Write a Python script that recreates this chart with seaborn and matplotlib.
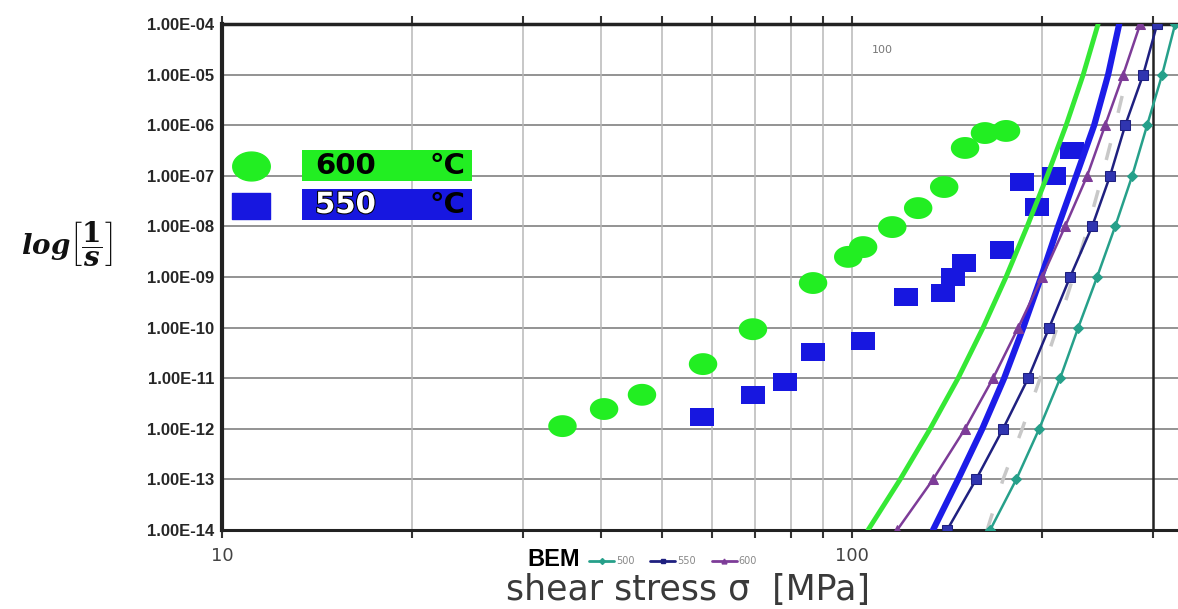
import numpy as np
import matplotlib
matplotlib.use('Agg')
import matplotlib.pyplot as plt
from matplotlib.path import Path
from matplotlib.lines import Line2D
from matplotlib.patches import Rectangle
import matplotlib.patheffects as pe
import seaborn as sns

# measured creep rates (1/s) vs shear stress (MPa)
stress_600 = [34.7, 40.4, 46.4, 58.0, 69.6, 86.7, 98.6, 104.1, 115.8, 127.3, 140.0, 151.1, 162.5, 175.5]
rate_600 = [1.13e-12, 2.46e-12, 4.7e-12, 1.9e-11, 9.3e-11, 7.6e-10, 2.5e-9, 3.9e-9, 9.7e-9, 2.3e-8, 6.0e-8, 3.55e-7, 7.0e-7, 7.7e-7]

stress_550 = [57.8, 69.6, 78.3, 86.7, 104.1, 121.8, 139.4, 144.6, 150.6, 173.0, 196.7, 186.1, 209.2, 223.4]
rate_550 = [1.7e-12, 4.7e-12, 8.4e-12, 3.3e-11, 5.4e-11, 4.0e-10, 4.8e-10, 1.0e-9, 1.9e-9, 3.4e-9, 2.4e-8, 7.5e-8, 9.9e-8, 3.2e-7]

# model curves, one stress value per decade of rate
curve_rate = [1e-14, 1e-13, 1e-12, 1e-11, 1e-10, 1e-9, 1e-8, 1e-7, 1e-6, 1e-5, 1e-4]
fit_600 = [106.0, 119.2, 133.0, 147.3, 161.4, 175.5, 189.6, 204.0, 218.6, 232.7, 245.7]
fit_550 = [134.4, 147.3, 160.9, 174.3, 186.9, 199.5, 212.3, 226.8, 242.2, 254.9, 265.4]
bem_600 = [117.9, 134.4, 151.1, 167.4, 183.5, 200.3, 217.8, 236.1, 252.1, 269.3, 286.6]
bem_550 = [141.5, 157.3, 173.6, 190.3, 205.5, 221.8, 240.4, 256.7, 271.3, 289.7, 304.9]
bem_500 = [165.6, 182.2, 198.1, 213.9, 228.5, 244.8, 261.5, 278.3, 293.9, 310.5, 325.6]
gray_rate = [1e-14, 1e-13, 1e-12, 1e-11, 1e-10, 1e-9, 1e-8, 1e-7, 1e-6, 1e-5]
gray_x = [163.8, 173.6, 186.2, 198.8, 211.5, 224.4, 237.0, 249.4, 261.5, 273.3]

ytick_vals = [1e-14, 1e-13, 1e-12, 1e-11, 1e-10, 1e-9, 1e-8, 1e-7, 1e-6, 1e-5, 1e-4]
ytick_labels = ['1.00E-14', '1.00E-13', '1.00E-12', '1.00E-11', '1.00E-10', '1.00E-09',
                '1.00E-08', '1.00E-07', '1.00E-06', '1.00E-05', '1.00E-04']
xgrid_vals = [20, 30, 40, 50, 60, 70, 80, 90, 100, 200]

sns.set_style('white')
plt.rcParams['font.family'] = ['DejaVu Sans']
plt.rcParams['mathtext.fontset'] = 'custom'
plt.rcParams['mathtext.it'] = 'DejaVu Serif:italic:bold'
plt.rcParams['mathtext.rm'] = 'DejaVu Serif:bold'

GREEN = '#22ee22'
BLUE = '#1717e0'

fig = plt.figure(figsize=(11.78, 6.09), dpi=100)
ax = fig.add_axes([222 / 1178, 1 - 530 / 609, 1 - 222 / 1178, (530 - 24) / 609])
ax.set_xscale('log')
ax.set_yscale('log')

# ellipse / flat rectangle markers like the original
t = np.linspace(0, 2 * np.pi, 60)
ellipse = Path(np.column_stack([1.3 * np.cos(t), np.sin(t)]), closed=True)
rect = Path([(-1.4, -1), (1.4, -1), (1.4, 1), (-1.4, 1), (-1.4, -1)], closed=True)

sns.scatterplot(x=stress_600, y=rate_600, marker=ellipse, s=420, color=GREEN,
                edgecolor='none', linewidth=0, ax=ax, zorder=3)
sns.scatterplot(x=stress_550, y=rate_550, marker=rect, s=310, color=BLUE,
                edgecolor='none', linewidth=0, ax=ax, zorder=3)

sns.lineplot(x=fit_600, y=curve_rate, color='#35e835', lw=3.5, estimator=None, ax=ax, zorder=4)
sns.lineplot(x=fit_550, y=curve_rate, color='#1c1ce8', lw=4.5, estimator=None, ax=ax, zorder=4)
ax.plot(gray_x, gray_rate, color='#c8c8c8', lw=2.5, dashes=(5, 9), zorder=4)
sns.lineplot(x=bem_600, y=curve_rate, color='#7d3c98', lw=1.8, marker='^', markersize=7,
             markeredgecolor='#7d3c98', estimator=None, ax=ax, zorder=5)
sns.lineplot(x=bem_550, y=curve_rate, color='#1f2080', lw=1.8, marker='s', markersize=7,
             markerfacecolor='#3035b0', markeredgecolor='#1f2080', estimator=None, ax=ax, zorder=5)
sns.lineplot(x=bem_500, y=curve_rate, color='#26a08a', lw=1.8, marker='D', markersize=5,
             markeredgecolor='#26a08a', estimator=None, ax=ax, zorder=5)

ax.set_xlim(10, 329)
ax.set_ylim(1e-14, 1e-4)

# grid
for v in ytick_vals[1:-1]:
    ax.axhline(v, color='#8a8a8a', lw=1.3, zorder=1)
for v in xgrid_vals:
    ax.axvline(v, color='#b8b8b8', lw=1.1, zorder=1)
ax.axvline(300, color='#222222', lw=1.8, zorder=2)

for side in ['top', 'bottom', 'left']:
    ax.spines[side].set_color('#222222')
ax.spines['top'].set_linewidth(2.5)
ax.spines['bottom'].set_linewidth(2.2)
ax.spines['left'].set_linewidth(3)
ax.spines['right'].set_visible(False)

ax.set_yticks(ytick_vals)
ax.set_yticklabels(ytick_labels, fontfamily='Liberation Sans', fontweight='bold', fontsize=12)
ax.yaxis.set_minor_locator(matplotlib.ticker.LogLocator(base=10, subs=np.arange(2, 10) * 1.0, numticks=30))
ax.yaxis.set_minor_formatter(matplotlib.ticker.NullFormatter())
ax.tick_params(axis='y', which='major', direction='inout', length=7, width=1.5, pad=2, color='#222222')
ax.tick_params(axis='y', which='minor', direction='inout', length=5, width=1, color='#333333')

ax.set_xticks([10, 100])
ax.set_xticklabels(['10', '100'], fontsize=13, color='#444444')
ax.xaxis.set_minor_locator(matplotlib.ticker.FixedLocator(xgrid_vals + [300]))
ax.xaxis.set_minor_formatter(matplotlib.ticker.NullFormatter())
ax.tick_params(axis='x', which='both', top=True, bottom=True, direction='out', length=6,
               width=1.5, color='#333333', pad=6)

ax.text(111.6, 3.1e-5, '100', fontsize=8, color='#777777', ha='center', va='center')

# axis titles
fig.text(688 / 1178, 1 - 590 / 609, 'shear stress \u03c3  [MPa]', fontsize=25,
         color='#3a3a3a', ha='center', va='center')
fig.text(67 / 1178, 1 - 243 / 609, r'$log\left[\dfrac{1}{s}\right]$', fontsize=20,
         ha='center', va='center', color='#111111')

# temperature key
fig.add_artist(Line2D([251 / 1178], [1 - 166 / 609], marker=ellipse, markersize=27,
                      color=GREEN, ls='none'))
fig.add_artist(Line2D([251 / 1178], [1 - 206 / 609], marker=rect, markersize=27,
                      color=BLUE, ls='none'))
fig.add_artist(Rectangle((302 / 1178, 1 - 181 / 609), 170 / 1178, 31 / 609,
                         transform=fig.transFigure, color=GREEN, lw=0))
fig.add_artist(Rectangle((302 / 1178, 1 - 220 / 609), 170 / 1178, 31 / 609,
                         transform=fig.transFigure, color=BLUE, lw=0))
fig.text(315 / 1178, 1 - 166 / 609, '600', fontsize=21, fontweight='heavy',
         color='black', ha='left', va='center')
fig.text(465 / 1178, 1 - 166 / 609, '°C', fontsize=21, fontweight='heavy',
         color='black', ha='right', va='center')
fig.text(315 / 1178, 1 - 205 / 609, '550', fontsize=21, fontweight='heavy', color='white',
         ha='left', va='center', path_effects=[pe.withStroke(linewidth=1.5, foreground='black')])
fig.text(465 / 1178, 1 - 205 / 609, '°C', fontsize=21, fontweight='heavy',
         color='black', ha='right', va='center')

# BEM key
fig.text(580 / 1178, 1 - 560 / 609, 'BEM', fontsize=17, fontweight='bold',
         fontfamily='Liberation Sans', color='black', ha='right', va='center')
handles = [
    Line2D([], [], color='#26a08a', lw=2, marker='D', markersize=3),
    Line2D([], [], color='#1f2080', lw=2, marker='s', markersize=3.5),
    Line2D([], [], color='#7d3c98', lw=2, marker='^', markersize=3.5),
]
leg = fig.legend(handles, ['500', '550', '600'], ncol=3, frameon=False, fontsize=7,
                 loc='center left', bbox_to_anchor=(584 / 1178, 1 - 561 / 609),
                 handlelength=2.6, handletextpad=0.2, columnspacing=1.6, borderpad=0)
for txt in leg.get_texts():
    txt.set_color('#888888')

fig.savefig('out.png', dpi=100)
